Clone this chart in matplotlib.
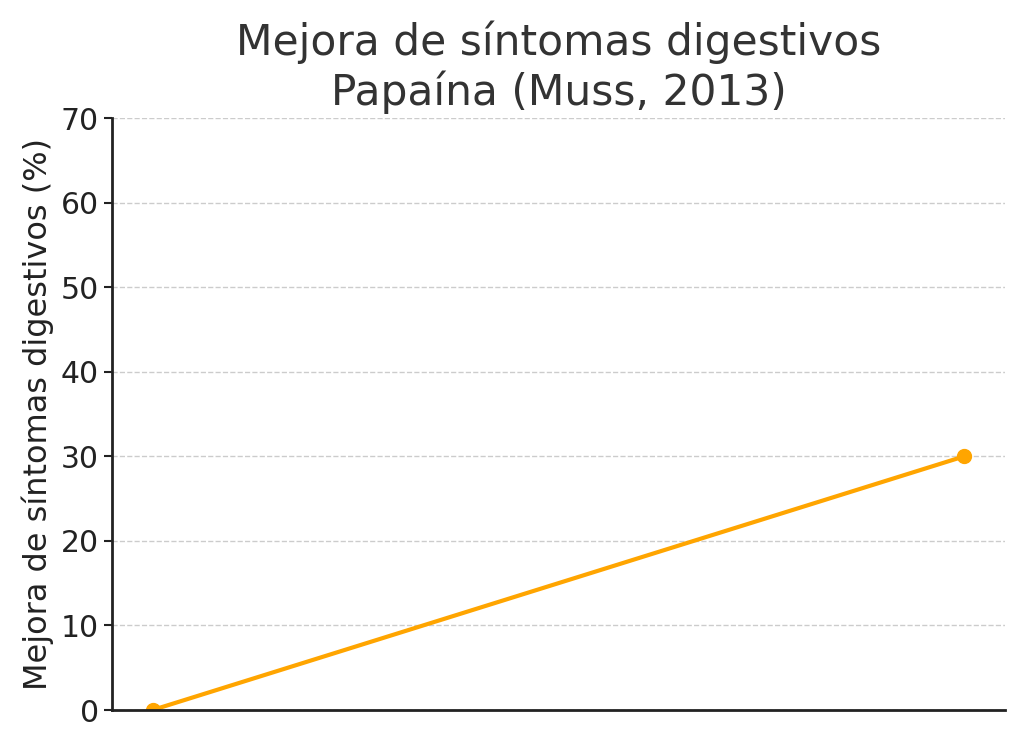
import matplotlib
matplotlib.use("Agg")
import matplotlib.pyplot as plt

# datos
puntos = [0, 1]
mejora = [0, 30]
titulo = "Mejora de síntomas digestivos\nPapaína (Muss, 2013)"
etiqueta_y = "Mejora de síntomas digestivos (%)"

fig = plt.figure(figsize=(10.24, 7.48), dpi=100)
ax = fig.add_axes([112 / 1024, 1 - 710 / 748, (1005 - 112) / 1024, (710 - 118) / 748])

ax.plot(puntos, mejora, color="orange", linewidth=3, marker="o", markersize=10)

ax.set_ylim(0, 70)
ax.set_xlim(-0.05, 1.05)
ax.set_yticks(range(0, 71, 10))
ax.set_xticks([])
ax.tick_params(axis="y", labelsize=21.5, length=6, width=1.5, colors="#222222")
ax.grid(axis="y", linestyle="--", color="#cccccc", linewidth=1)
ax.set_axisbelow(True)
for s in ["top", "right"]:
    ax.spines[s].set_visible(False)
for s in ["left", "bottom"]:
    ax.spines[s].set_linewidth(2)
    ax.spines[s].set_color("#222222")

ax.set_ylabel(etiqueta_y, fontsize=23, color="#222222", labelpad=5)
ax.set_title(titulo, fontsize=30.5, color="#333333", pad=9)

fig.savefig("out.png", dpi=100)
